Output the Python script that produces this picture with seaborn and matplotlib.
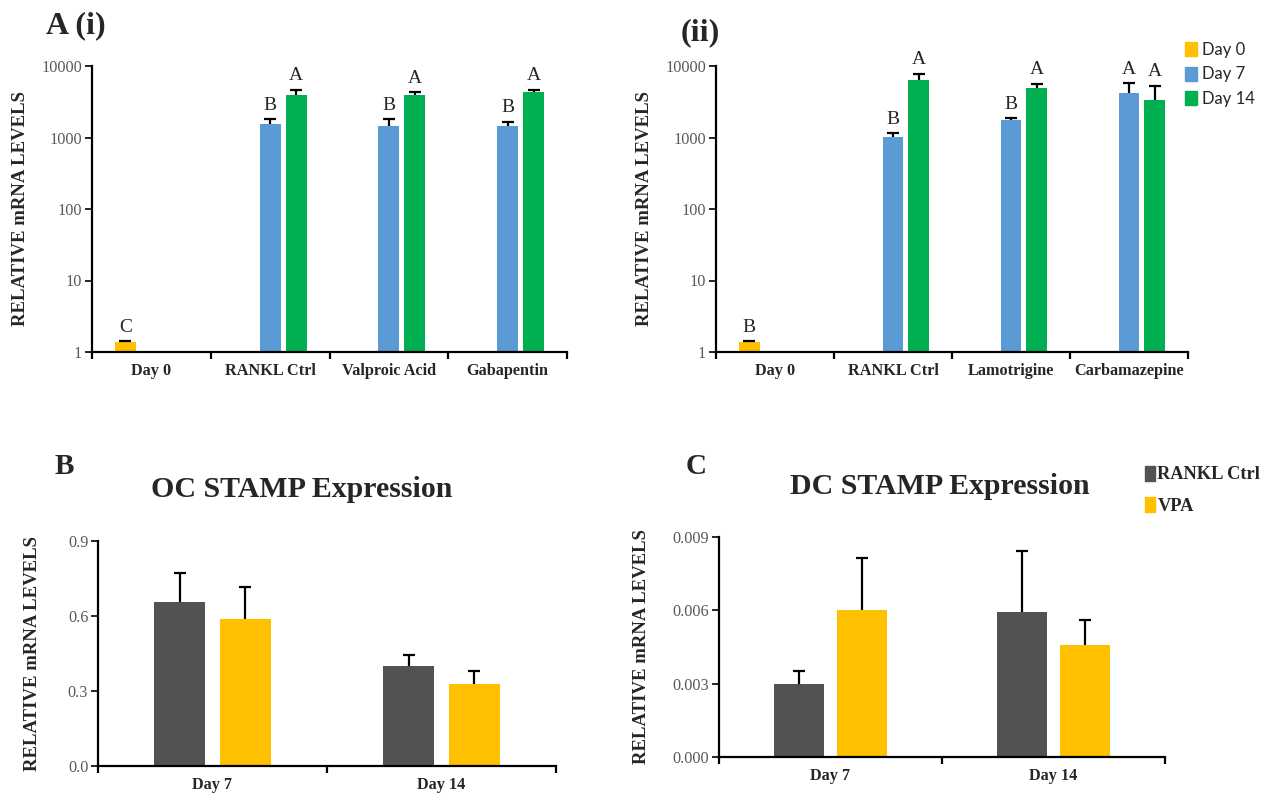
import numpy as np
import pandas as pd
import matplotlib
matplotlib.use("Agg")
import matplotlib.pyplot as plt
import seaborn as sns
from matplotlib.ticker import FixedLocator, FuncFormatter, NullLocator

sns.set_style("ticks")
plt.rcParams['font.family'] = ['Liberation Serif', 'DejaVu Serif']

# ---- data ----
days = ["Day 0", "Day 7", "Day 14"]
day_colors = ["#FFC000", "#5B9BD5", "#00B050"]

# A (i)
a1_order = ["Day 0", "RANKL Ctrl", "Valproic Acid", "Gabapentin"]
a1_group = ["Day 0", "RANKL Ctrl", "RANKL Ctrl", "Valproic Acid", "Valproic Acid", "Gabapentin", "Gabapentin"]
a1_day = ["Day 0", "Day 7", "Day 14", "Day 7", "Day 14", "Day 7", "Day 14"]
a1_mean = [1.38, 1520, 3960, 1470, 3960, 1470, 4360]
a1_top = [1.41, 1800, 4650, 1800, 4270, 1670, 4650]
a1_letter = ["C", "B", "A", "B", "A", "B", "A"]

# A (ii)
a2_order = ["Day 0", "RANKL Ctrl", "Lamotrigine", "Carbamazepine"]
a2_group = ["Day 0", "RANKL Ctrl", "RANKL Ctrl", "Lamotrigine", "Lamotrigine", "Carbamazepine", "Carbamazepine"]
a2_day = ["Day 0", "Day 7", "Day 14", "Day 7", "Day 14", "Day 7", "Day 14"]
a2_mean = [1.37, 1030, 6330, 1730, 4860, 4230, 3300]
a2_top = [1.41, 1150, 7730, 1860, 5650, 5710, 5300]
a2_letter = ["B", "B", "A", "B", "A", "A", "A"]

# B / C
treat = ["RANKL Ctrl", "VPA"]
treat_colors = ["#525252", "#FFC000"]
bc_order = ["Day 7", "Day 14"]
bc_group = ["Day 7", "Day 7", "Day 14", "Day 14"]
bc_treat = ["RANKL Ctrl", "VPA", "RANKL Ctrl", "VPA"]
oc_mean = [0.657, 0.589, 0.399, 0.327]
oc_top = [0.772, 0.716, 0.444, 0.379]
dc_mean = [0.00297, 0.0060, 0.00595, 0.00457]
dc_top = [0.00353, 0.00814, 0.00844, 0.00559]

ylab = "RELATIVE mRNA LEVELS"


def bar_panel(ax, df, order, hue_order, colors, width, gap):
    sns.barplot(data=df, x="group", y="value", hue="hue", order=order,
                hue_order=hue_order, palette=colors, width=width, gap=gap,
                errorbar=None, legend=False, saturation=1, ax=ax, edgecolor="none")
    xs, ms, tops, letters = [], [], [], []
    for level, cont in zip(hue_order, ax.containers):
        sub = df[df["hue"] == level].copy()
        sub["pos"] = sub["group"].map({g: i for i, g in enumerate(order)})
        sub = sub.sort_values("pos")
        for bar, (_, row) in zip(cont, sub.iterrows()):
            xs.append(bar.get_x() + bar.get_width() / 2)
            ms.append(row["value"])
            tops.append(row["top"])
            letters.append(row.get("letter", ""))
    xs, ms, tops = np.array(xs), np.array(ms), np.array(tops)
    # upper error only: hide the lower cap
    _, caps, _ = ax.errorbar(xs, ms, yerr=[np.zeros_like(ms), tops - ms], fmt="none",
                             ecolor="black", elinewidth=1.6, capsize=4.3, capthick=1.6, zorder=3)
    caps[0].set_visible(False)
    # axis styling
    sns.despine(ax=ax)
    for s in ["left", "bottom"]:
        ax.spines[s].set_color("black")
        ax.spines[s].set_linewidth(1.6)
    n = len(order)
    ax.set_xlim(-0.5, n - 0.5)
    ax.xaxis.set_major_locator(FixedLocator(range(n)))
    ax.set_xticklabels(order, fontweight="bold", fontsize=11.7)
    ax.xaxis.set_minor_locator(FixedLocator(np.arange(n + 1) - 0.5))
    ax.tick_params(axis="x", which="major", length=0, pad=8)
    ax.tick_params(axis="x", which="minor", length=5, width=1.6, direction="out", color="black")
    ax.tick_params(axis="y", which="major", length=5, width=1.2, color="black",
                   labelsize=11.7, labelcolor="#595959", pad=2)
    ax.tick_params(axis="y", which="minor", length=0)
    ax.set_xlabel("")
    ax.set_ylabel(ylab, fontweight="bold", fontsize=13.5)
    return xs, tops, letters


fig = plt.figure(figsize=(12.66, 7.96), dpi=100)
W, H = 1266, 796


def add_ax(l, t, r, b):
    return fig.add_axes([l / W, 1 - b / H, (r - l) / W, (b - t) / H])


# ---- A (i) and A (ii) ----
for (l, r, order, grp, dy, mean, top, let) in [
        (92, 567, a1_order, a1_group, a1_day, a1_mean, a1_top, a1_letter),
        (716, 1188, a2_order, a2_group, a2_day, a2_mean, a2_top, a2_letter)]:
    ax = add_ax(l, 66, r, 352)
    df = pd.DataFrame({"group": grp, "hue": dy, "value": mean, "top": top, "letter": let})
    xs, tops, letters = bar_panel(ax, df, order, days, day_colors, 0.655, 0.19)
    ax.set_yscale("log")
    ax.set_ylim(1, 10000)
    ax.yaxis.set_major_locator(FixedLocator([1, 10, 100, 1000, 10000]))
    ax.yaxis.set_minor_locator(NullLocator())
    ax.yaxis.set_major_formatter(FuncFormatter(lambda v, p: f"{v:.0f}"))
    for x, t, s in zip(xs, tops, letters):
        ax.annotate(s, (x, t), xytext=(0, 4), textcoords="offset points",
                    ha="center", va="bottom", fontsize=14, clip_on=False)
    ax.yaxis.set_label_coords(-63 / (r - l), 0.5)

handles = [plt.Rectangle((0, 0), 1, 1, color=c) for c in day_colors]
fig.legend(handles, days, loc="upper left", bbox_to_anchor=(1170 / W, 1 - 27 / H),
           frameon=False, prop={"family": "Lato", "size": 12},
           handlelength=0.7, handleheight=0.9, handletextpad=0.3, labelspacing=0.5)

# ---- B ----
axb = add_ax(98, 541, 556, 766)
dfb = pd.DataFrame({"group": bc_group, "hue": bc_treat, "value": oc_mean, "top": oc_top})
bar_panel(axb, dfb, bc_order, treat, treat_colors, 0.572, 0.22)
axb.set_ylim(0, 0.9)
axb.yaxis.set_major_locator(FixedLocator([0, 0.3, 0.6, 0.9]))
axb.yaxis.set_major_formatter(FuncFormatter(lambda v, p: f"{v:.1f}"))
axb.yaxis.set_label_coords(-57 / 458, 0.5)

# ---- C ----
axc = add_ax(719, 537, 1165, 757)
dfc = pd.DataFrame({"group": bc_group, "hue": bc_treat, "value": dc_mean, "top": dc_top})
bar_panel(axc, dfc, bc_order, treat, treat_colors, 0.566, 0.22)
axc.set_ylim(0, 0.009)
axc.yaxis.set_major_locator(FixedLocator([0, 0.003, 0.006, 0.009]))
axc.yaxis.set_major_formatter(FuncFormatter(lambda v, p: f"{v:.3f}"))
axc.yaxis.set_label_coords(-69 / 446, 0.5)
handles = [plt.Rectangle((0, 0), 1, 1, color=c) for c in treat_colors]
fig.legend(handles, treat, loc="upper left", bbox_to_anchor=(1128 / W, 1 - 449 / H),
           frameon=False, prop={"weight": "bold", "size": 13.2},
           handlelength=0.55, handleheight=0.9, handletextpad=0.15, labelspacing=0.75)

# ---- panel labels and titles ----
fig.text(46 / W, 1 - 26 / H, "A (i)", fontsize=23, fontweight="bold", va="center", ha="left")
fig.text(681 / W, 1 - 33 / H, "(ii)", fontsize=23, fontweight="bold", va="center", ha="left")
fig.text(55 / W, 1 - 467 / H, "B", fontsize=21, fontweight="bold", va="center", ha="left")
fig.text(686 / W, 1 - 466 / H, "C", fontsize=21, fontweight="bold", va="center", ha="left")
fig.text(302 / W, 1 - 490 / H, "OC STAMP Expression", fontsize=21.5, fontweight="bold", va="center", ha="center")
fig.text(940 / W, 1 - 487 / H, "DC STAMP Expression", fontsize=21.5, fontweight="bold", va="center", ha="center")

fig.savefig("out.png", dpi=100)
